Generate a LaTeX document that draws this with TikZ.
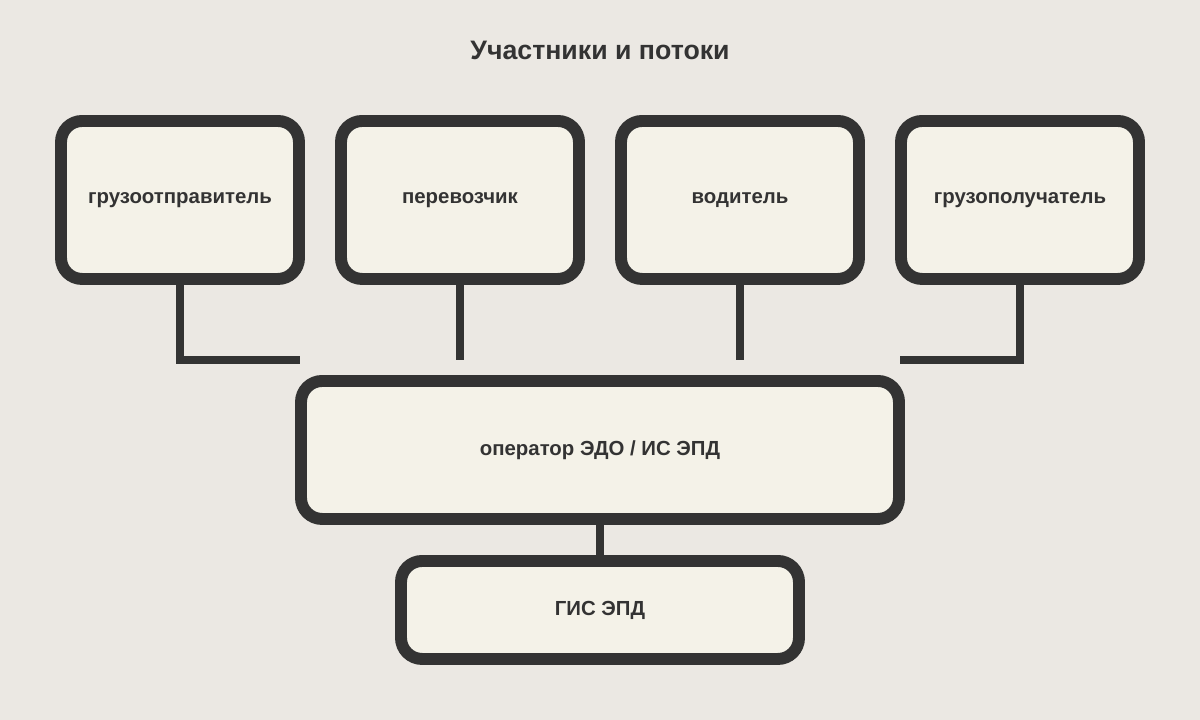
\documentclass[tikz,border=0pt]{standalone}
\usepackage{fontspec}
\setmainfont{Liberation Sans}
\usetikzlibrary{positioning}
\definecolor{bgc}{HTML}{EBE8E3}
\definecolor{boxc}{HTML}{F4F2E8}
\definecolor{inkc}{HTML}{333333}
\begin{document}
\begin{tikzpicture}[
    box/.style={draw=inkc, fill=boxc, line width=3.4pt, rounded corners=6pt,
        font=\fontsize{5.8pt}{7pt}\selectfont\bfseries, text=inkc},
    link/.style={draw=inkc, line width=2.3pt}
]
    \fill [bgc] (0,0) rectangle (12,7.2);
    \useasboundingbox (0,0) rectangle (12,7.2);

    \node [text=inkc, font=\fontsize{7.6pt}{9pt}\selectfont\bfseries] (title) at (6,6.7) {Участники и потоки};

    \node [box, minimum width=2.38cm, minimum height=1.58cm] (shipper) at (1.8,5.2) {грузоотправитель};
    \node [box, minimum width=2.38cm, minimum height=1.58cm] (carrier) at (4.6,5.2) {перевозчик};
    \node [box, minimum width=2.38cm, minimum height=1.58cm] (driver) at (7.4,5.2) {водитель};
    \node [box, minimum width=2.38cm, minimum height=1.58cm] (consignee) at (10.2,5.2) {грузополучатель};

    \node [box, minimum width=5.98cm, minimum height=1.38cm] (operator) at (6,2.7) {оператор ЭДО / ИС ЭПД};
    \node [box, minimum width=3.98cm, minimum height=0.98cm] (gis) at (6,1.1) {ГИС ЭПД};

    \coordinate (inL) at (3,3.6);
    \coordinate (inR) at (9,3.6);

    \draw [link] (shipper.south) |- (inL);
    \draw [link] (carrier.south) -- ++(0,-0.75);
    \draw [link] (driver.south) -- ++(0,-0.75);
    \draw [link] (consignee.south) |- (inR);
    \draw [link] (operator.south) -- (gis.north);
\end{tikzpicture}
\end{document}
